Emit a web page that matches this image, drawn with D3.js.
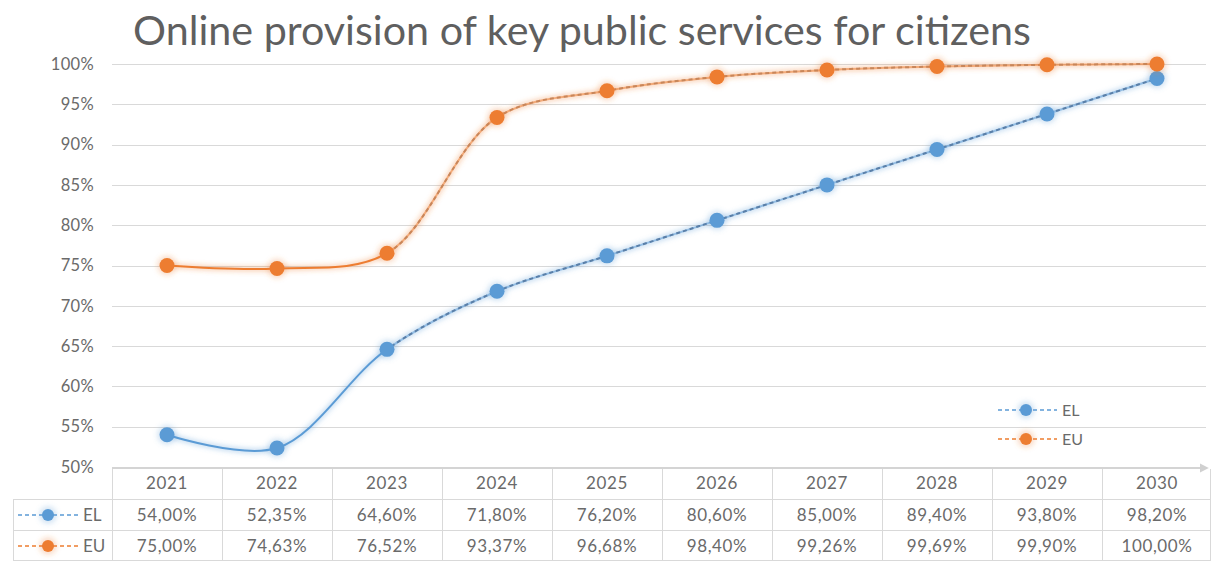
<!DOCTYPE html>
<html><head><meta charset="utf-8">
<script src="https://cdn.jsdelivr.net/npm/d3@7"></script>
<style>
body{margin:0;background:#fff}
svg{display:block}
text{font-family:Lato,"Open Sans",sans-serif;fill:#6a6a6a}
</style></head>
<body><svg id="c" width="1211" height="561"></svg>
<script>
const title = "Online provision of key public services for citizens";
const years = ["2021","2022","2023","2024","2025","2026","2027","2028","2029","2030"];
const elValues = [54.00,52.35,64.60,71.80,76.20,80.60,85.00,89.40,93.80,98.20];
const euValues = [75.00,74.63,76.52,93.37,96.68,98.40,99.26,99.69,99.90,100.00];
const seriesNames = ["EL","EU"];
const seriesColors = ["#5b9bd5","#ed7d31"];
const dashColors = ["#5a7fa8","#c8865a"];
const yTicks = [50,55,60,65,70,75,80,85,90,95,100];
const solidUntil = "2023";

const svg = d3.select("#c");
const defs = svg.append("defs");
const blur = defs.append("filter").attr("id","glow").attr("x","-50%").attr("y","-50%").attr("width","200%").attr("height","200%");
blur.append("feGaussianBlur").attr("stdDeviation",2.5);

const x = d3.scaleBand().domain(years).range([112,1212]);
const y = d3.scaleLinear().domain([50,100]).range([467,64]);
const cx = d => x(d) + x.bandwidth()/2;
const fmtPct = v => d3.format(".2f")(v).replace(".",",") + "%";

// title
const t = svg.append("text").attr("x",582).attr("y",45).attr("text-anchor","middle")
  .style("font-size","38px").style("fill","#5f5f5f").text(title);
const tw = t.node().getComputedTextLength();
t.style("font-size",(38*898/tw)+"px");

// grid
svg.append("g").selectAll("line").data(yTicks.filter(d=>d>50)).join("line")
  .attr("x1",112).attr("x2",1206).attr("y1",d=>Math.round(y(d))+0.5).attr("y2",d=>Math.round(y(d))+0.5)
  .attr("stroke","#d9d9d9").attr("stroke-width",1.2);

// y labels
const yAxis = d3.axisLeft(y).tickValues(yTicks).tickFormat(d=>d+"%").tickSize(0).tickPadding(0);
const ya = svg.append("g").attr("transform","translate(94,0)").call(yAxis);
ya.select(".domain").remove();
ya.attr("font-family",null).attr("font-size",null);
ya.selectAll("text").style("font-size","16.5px").style("letter-spacing","0.3px").style("fill","#6a6a6a");

// x axis line with arrow
defs.append("marker").attr("id","arr").attr("viewBox","0 0 10 10").attr("refX",0).attr("refY",5)
  .attr("markerWidth",4).attr("markerHeight",4.5).attr("orient","auto")
  .append("path").attr("d","M0,0L10,5L0,10Z").attr("fill","#d0d0d0");
svg.append("line").attr("x1",112).attr("x2",1200).attr("y1",468).attr("y2",468)
  .attr("stroke","#d4d4d4").attr("stroke-width",2.2).attr("marker-end","url(#arr)");

// clips
const splitX = cx(solidUntil);
defs.append("clipPath").attr("id","clipSolid").append("rect").attr("x",0).attr("y",0).attr("width",splitX).attr("height",561);
defs.append("clipPath").attr("id","clipDash").append("rect").attr("x",splitX).attr("y",0).attr("width",1211-splitX).attr("height",561);

const line = d3.line().x(d=>cx(d.year)).y(d=>y(d.v)).curve(d3.curveCatmullRom.alpha(0.5));
const series = [elValues, euValues].map((vals,i)=>({name:seriesNames[i],color:seriesColors[i],dash:dashColors[i],
  pts:years.map((yr,j)=>({year:yr,v:vals[j]}))}));

const gl = svg.append("g");
series.forEach(s=>{
  gl.append("path").attr("d",line(s.pts)).attr("fill","none").attr("stroke",s.color)
    .attr("stroke-opacity",0.35).attr("stroke-width",5).attr("filter","url(#glow)");
});
series.forEach(s=>{
  gl.append("path").attr("d",line(s.pts)).attr("fill","none").attr("stroke",s.color)
    .attr("stroke-width",2).attr("clip-path","url(#clipSolid)");
  gl.append("path").attr("d",line(s.pts)).attr("fill","none").attr("stroke",s.color)
    .attr("stroke-opacity",0.55).attr("stroke-width",2).attr("clip-path","url(#clipDash)");
  gl.append("path").attr("d",line(s.pts)).attr("fill","none").attr("stroke",s.dash)
    .attr("stroke-width",2).attr("stroke-dasharray","4,3").attr("clip-path","url(#clipDash)");
});
series.forEach(s=>{
  gl.append("g").selectAll("circle.g").data(s.pts).join("circle")
    .attr("cx",d=>cx(d.year)).attr("cy",d=>y(d.v)).attr("r",10).attr("fill",s.color)
    .attr("fill-opacity",0.25).attr("filter","url(#glow)");
  gl.append("g").selectAll("circle.m").data(s.pts).join("circle")
    .attr("cx",d=>cx(d.year)).attr("cy",d=>y(d.v)).attr("r",7.5).attr("fill",s.color);
});

function key(g, xs, xe, xc, yy, s, r){
  g.append("line").attr("x1",xs).attr("x2",xe).attr("y1",yy).attr("y2",yy)
    .attr("stroke",s.color).attr("stroke-width",1.5).attr("stroke-dasharray","4,3");
  g.append("circle").attr("cx",xc).attr("cy",yy).attr("r",r+3).attr("fill",s.color).attr("fill-opacity",0.25).attr("filter","url(#glow)");
  g.append("circle").attr("cx",xc).attr("cy",yy).attr("r",r).attr("fill",s.color);
}
// in-plot legend
const lg = svg.append("g");
series.forEach((s,i)=>{
  const yy = 410 + i*29;
  key(lg, 998, 1057, 1026, yy, s, 6);
  lg.append("text").attr("x",1062).attr("y",yy).attr("dy","0.35em").style("font-size","16px").text(s.name);
});

// data table
const tb = svg.append("g");
const bstroke = "#d9d9d9";
x.domain().forEach(yr=>{
  tb.append("line").attr("x1",x(yr)+0.5).attr("x2",x(yr)+0.5).attr("y1",469).attr("y2",561).attr("stroke",bstroke);
});
tb.append("line").attr("x1",1210.5).attr("x2",1210.5).attr("y1",469).attr("y2",561).attr("stroke",bstroke);
tb.append("line").attr("x1",13.5).attr("x2",13.5).attr("y1",499).attr("y2",561).attr("stroke",bstroke);
[499,530].forEach(yy=>tb.append("line").attr("x1",13).attr("x2",1211).attr("y1",yy+0.5).attr("y2",yy+0.5).attr("stroke",bstroke));
tb.append("line").attr("x1",13).attr("x2",1211).attr("y1",560.5).attr("y2",560.5).attr("stroke",bstroke);

const tfs = "17px", tls = "0.6px";
tb.selectAll("text.h").data(years).join("text").attr("x",d=>cx(d)).attr("y",483).attr("dy","0.35em")
  .attr("text-anchor","middle").style("font-size",tfs).style("letter-spacing",tls).text(d=>d);
series.forEach((s,i)=>{
  const yy = 515 + i*31;
  tb.append("g").selectAll("text").data(s.pts).join("text").attr("x",d=>cx(d.year)).attr("y",yy).attr("dy","0.35em")
    .attr("text-anchor","middle").style("font-size",tfs).style("letter-spacing",tls).text(d=>fmtPct(d.v));
  key(tb, 18, 80, 48, yy, s, 6);
  tb.append("text").attr("x",83).attr("y",yy).attr("dy","0.35em").style("font-size",tfs).text(s.name);
});
</script></body></html>
